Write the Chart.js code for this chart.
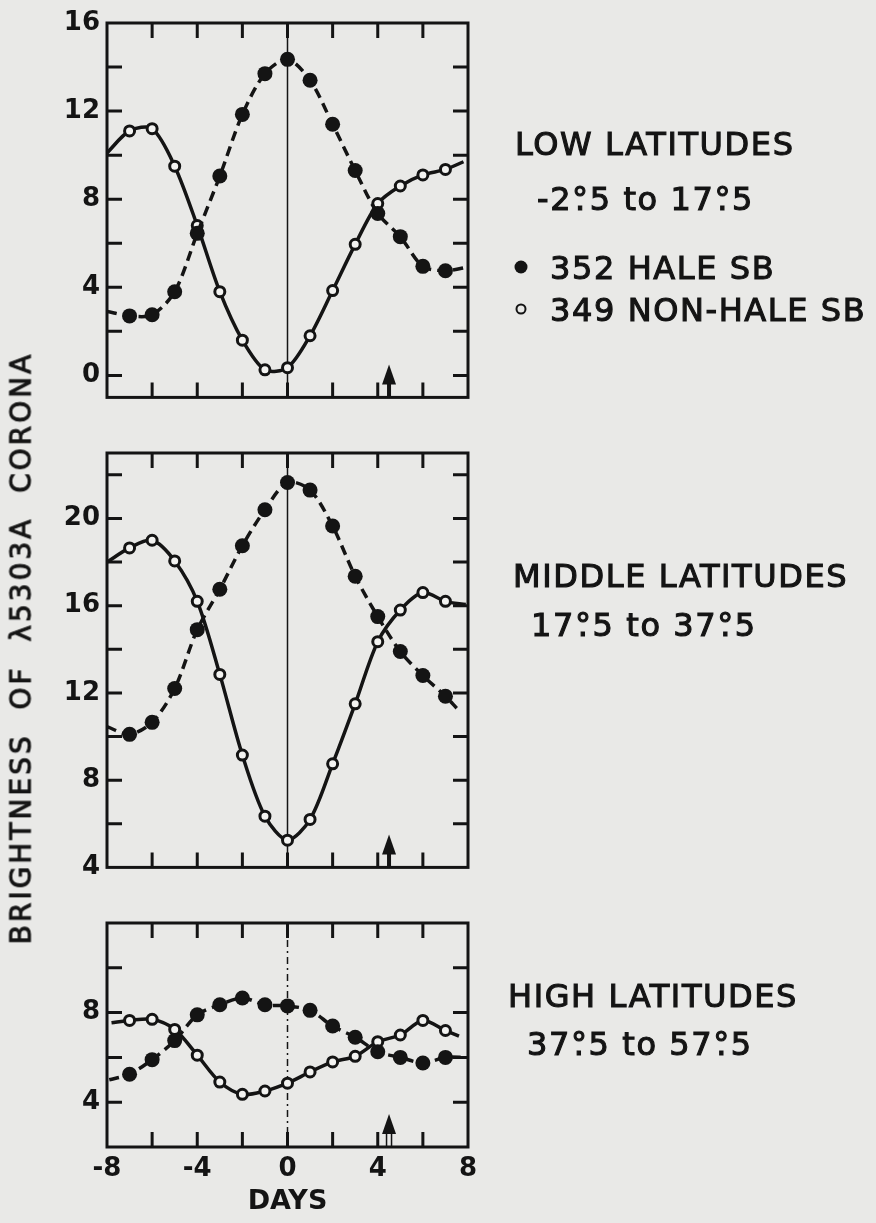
<!DOCTYPE html>
<html>
<head>
<meta charset="utf-8">
<script src="https://cdn.jsdelivr.net/npm/chart.js@4.4.1/dist/chart.umd.min.js"></script>
<style>
  html, body { margin: 0; padding: 0; background: #e9e9e7; }
  #wrap { position: relative; width: 876px; height: 1223px; overflow: hidden; }
  canvas { position: absolute; left: 0; }
  #ytitle {
    position: absolute; left: 21px; top: 648px;
    transform: translate(-50%, -50%) rotate(-90deg);
    font: 28px "DejaVu Sans"; letter-spacing: 3px; white-space: pre; color: #141414;
    -webkit-text-stroke: 1px #141414;
  }
</style>
</head>
<body>
<div id="wrap">
  <canvas id="lowChart" width="876" height="420" style="top:0px"></canvas>
  <canvas id="midChart" width="876" height="470" style="top:420px"></canvas>
  <canvas id="highChart" width="876" height="333" style="top:890px"></canvas>
  <div id="ytitle">BRIGHTNESS  OF  λ5303A  CORONA</div>
</div>
<script>
// days relative to central meridian passage
var days = [-7, -6, -5, -4, -3, -2, -1, 0, 1, 2, 3, 4, 5, 6, 7];
var xTicks = ['-8', '-4', '0', '4', '8'];
var arrowDay = 4.5;

// low latitudes -2.5 to 17.5
var lowHale = [2.7, 2.75, 3.8, 6.45, 9.05, 11.85, 13.7, 14.35, 13.4, 11.4, 9.3, 7.35, 6.3, 4.95, 4.75];
var lowHaleEnds = [[-8, 2.9], [7.9, 4.9]];
var lowNonHale = [11.1, 11.2, 9.5, 6.8, 3.8, 1.6, 0.25, 0.35, 1.8, 3.85, 5.95, 7.8, 8.6, 9.1, 9.35];
var lowNonHaleEnds = [[-8, 10.1], [7.8, 9.7]];
var lowYLabels = [0, 4, 8, 12, 16];

// middle latitudes 17.5 to 37.5
var midHale = [10.1, 10.65, 12.2, 14.9, 16.75, 18.75, 20.4, 21.65, 21.3, 19.65, 17.35, 15.5, 13.9, 12.8, 11.85];
var midHaleEnds = [[-8, 10.45], [7.5, 11.3]];
var midNonHale = [18.65, 19.0, 18.05, 16.2, 12.85, 9.15, 6.35, 5.25, 6.2, 8.75, 11.5, 14.35, 15.8, 16.6, 16.2];
var midNonHaleEnds = [[-8, 18.0], [7.9, 16.05]];
var midYLabels = [4, 8, 12, 16, 20];

// high latitudes 37.5 to 57.5
var highHale = [5.25, 5.9, 6.75, 7.9, 8.35, 8.65, 8.35, 8.3, 8.1, 7.4, 6.9, 6.25, 6.0, 5.75, 6.0];
var highHaleEnds = [[-7.9, 5.0], [7.9, 6.0]];
var highNonHale = [7.65, 7.7, 7.25, 6.1, 4.9, 4.35, 4.5, 4.85, 5.35, 5.8, 6.05, 6.7, 7.0, 7.65, 7.2];
var highNonHaleEnds = [[-7.8, 7.55], [7.6, 6.95]];
var highYLabels = [4, 8];

var legendLabels = ['352 HALE SB', '349 NON-HALE SB'];

var INK = '#141414';
var PAPER = '#f3f3f1';
var FONT = '"DejaVu Sans"';

function toPoints(values, ends) {
  var pts = [{x: ends[0][0], y: ends[0][1]}];
  days.forEach(function (d, i) { pts.push({x: d, y: values[i]}); });
  pts.push({x: ends[1][0], y: ends[1][1]});
  return pts;
}

// hide the markers on the stub points at both ends
function radius(r) {
  return function (c) {
    return (c.dataIndex === 0 || c.dataIndex === days.length + 1) ? 0 : r;
  };
}

function ink(ctx, s, x, y) {
  ctx.fillText(s, x, y);
  ctx.strokeText(s, x, y);
}

// draw "17°.5" with the decimal point under the degree sign
function degText(ctx, text, x, y) {
  var parts = text.split('°.');
  parts.forEach(function (p, i) {
    ink(ctx, p, x, y);
    x += ctx.measureText(p).width;
    if (i < parts.length - 1) {
      var w = ctx.measureText('°').width;
      ink(ctx, '°', x, y);
      ink(ctx, '.', x + (w - ctx.measureText('.').width) / 2, y);
      x += w;
    }
  });
}

function panelPlugin(cfg) {
  return {
    id: 'panel',
    beforeDatasetsDraw: function (chart) {
      var ctx = chart.ctx, a = chart.chartArea;
      var x0 = chart.scales.x.getPixelForValue(0);
      ctx.save();
      ctx.strokeStyle = INK;
      ctx.lineWidth = 1.5;
      ctx.setLineDash(cfg.zeroDash);
      ctx.beginPath();
      ctx.moveTo(x0, a.top);
      ctx.lineTo(x0, a.bottom);
      ctx.stroke();
      ctx.restore();
    },
    afterDatasetsDraw: function (chart) {
      var ctx = chart.ctx, a = chart.chartArea;
      var xs = chart.scales.x, ys = chart.scales.y;
      var tl = 15;
      ctx.save();
      ctx.strokeStyle = INK;
      ctx.fillStyle = INK;
      ctx.lineWidth = 3;
      ctx.strokeRect(a.left, a.top, a.right - a.left, a.bottom - a.top);
      ctx.beginPath();
      xs.ticks.forEach(function (t) {
        if (t.value <= xs.min || t.value >= xs.max) return;
        var px = xs.getPixelForValue(t.value);
        ctx.moveTo(px, a.bottom); ctx.lineTo(px, a.bottom - tl);
        ctx.moveTo(px, a.top); ctx.lineTo(px, a.top + tl);
      });
      ys.ticks.forEach(function (t) {
        if (t.value <= ys.min || t.value >= ys.max) return;
        var py = ys.getPixelForValue(t.value);
        ctx.moveTo(a.left, py); ctx.lineTo(a.left + tl, py);
        ctx.moveTo(a.right, py); ctx.lineTo(a.right - tl, py);
      });
      ctx.stroke();

      // arrow on the bottom axis
      var ax = xs.getPixelForValue(arrowDay);
      ctx.beginPath();
      ctx.moveTo(ax, a.bottom - 33);
      ctx.lineTo(ax - 7, a.bottom - 13);
      ctx.lineTo(ax + 7, a.bottom - 13);
      ctx.closePath();
      ctx.fill();
      if (cfg.openShaft) {
        ctx.lineWidth = 1.5;
        ctx.strokeRect(ax - 2.5, a.bottom - 14, 5, 14);
      } else {
        ctx.fillRect(ax - 2, a.bottom - 14, 4, 14);
      }

      // panel captions on the right
      var top = chart.canvas.offsetTop;
      ctx.textBaseline = 'alphabetic';
      ctx.lineWidth = 1.1;
      ctx.font = '32px ' + FONT;
      ctx.letterSpacing = '1.6px';
      ink(ctx, cfg.title[0], cfg.title[1], cfg.title[2] - top);
      degText(ctx, cfg.range[0], cfg.range[1], cfg.range[2] - top);
      if (cfg.legend) {
        ctx.beginPath();
        ctx.arc(521, 267 - top, 6.5, 0, Math.PI * 2);
        ctx.fill();
        ink(ctx, legendLabels[0], 550, 279 - top);
        ink(ctx, legendLabels[1], 550, 321 - top);
        ctx.beginPath();
        ctx.lineWidth = 2;
        ctx.arc(521, 309 - top, 4.5, 0, Math.PI * 2);
        ctx.stroke();
      }
      ctx.restore();
    }
  };
}

function makePanel(id, hale, nonHale, yMin, yMax, yLabels, box, cfg) {
  var ctx = document.getElementById(id).getContext('2d');
  var showX = !!cfg.showX;
  return new Chart(ctx, {
    type: 'line',
    data: {
      datasets: [{
        label: legendLabels[0],
        data: hale,
        borderColor: INK,
        borderWidth: 3.5,
        borderDash: [10, 6],
        tension: 0.3,
        pointRadius: radius(7.5),
        pointBackgroundColor: INK,
        pointBorderWidth: 0
      }, {
        label: legendLabels[1],
        data: nonHale,
        borderColor: INK,
        borderWidth: 3.5,
        tension: 0.3,
        pointRadius: radius(5),
        pointBackgroundColor: PAPER,
        pointBorderColor: INK,
        pointBorderWidth: 3
      }]
    },
    options: {
      responsive: false,
      animation: false,
      layout: {
        padding: {left: 0, right: 876 - 468, top: box.top, bottom: 0}
      },
      scales: {
        x: {
          type: 'linear',
          min: -8,
          max: 8,
          grid: {display: false, drawTicks: false},
          border: {display: false},
          ticks: {
            display: showX,
            stepSize: 2,
            padding: 7,
            color: INK,
            font: {family: FONT, size: 26, weight: 'bold'},
            callback: function (v) {
              var s = String(v);
              return xTicks.indexOf(s) >= 0 ? s : '';
            }
          },
          title: {
            display: showX,
            text: 'DAYS',
            color: INK,
            font: {family: FONT, size: 27, weight: 'bold'},
            padding: {top: 0, bottom: 5}
          },
          afterFit: function (s) { s.height = box.xh; }
        },
        y: {
          min: yMin,
          max: yMax,
          grid: {display: false, drawTicks: false},
          border: {display: false},
          ticks: {
            stepSize: 2,
            includeBounds: false,
            padding: 7,
            color: INK,
            font: {family: FONT, size: 26, weight: 'bold'},
            callback: function (v) {
              return yLabels.indexOf(v) >= 0 ? String(v) : '';
            }
          },
          afterFit: function (s) { s.width = 107; }
        }
      },
      plugins: {
        legend: {display: false},
        tooltip: {enabled: false}
      }
    },
    plugins: [panelPlugin(cfg)]
  });
}

makePanel('lowChart', toPoints(lowHale, lowHaleEnds), toPoints(lowNonHale, lowNonHaleEnds),
  -1, 16, lowYLabels, {top: 23, xh: 15},
  {zeroDash: [], title: ['LOW LATITUDES', 515, 155], range: ['-2°.5 to 17°.5', 537, 210], legend: true});

makePanel('midChart', toPoints(midHale, midHaleEnds), toPoints(midNonHale, midNonHaleEnds),
  4, 23, midYLabels, {top: 33, xh: 14},
  {zeroDash: [], title: ['MIDDLE LATITUDES', 513, 587], range: ['17°.5 to 37°.5', 531, 636]});

makePanel('highChart', toPoints(highHale, highHaleEnds), toPoints(highNonHale, highNonHaleEnds),
  2, 12, highYLabels, {top: 33, xh: 76},
  {zeroDash: [7, 4, 2, 4], openShaft: true, showX: true,
   title: ['HIGH LATITUDES', 508, 1007], range: ['37°.5 to 57°.5', 527, 1055]});
</script>
</body>
</html>
